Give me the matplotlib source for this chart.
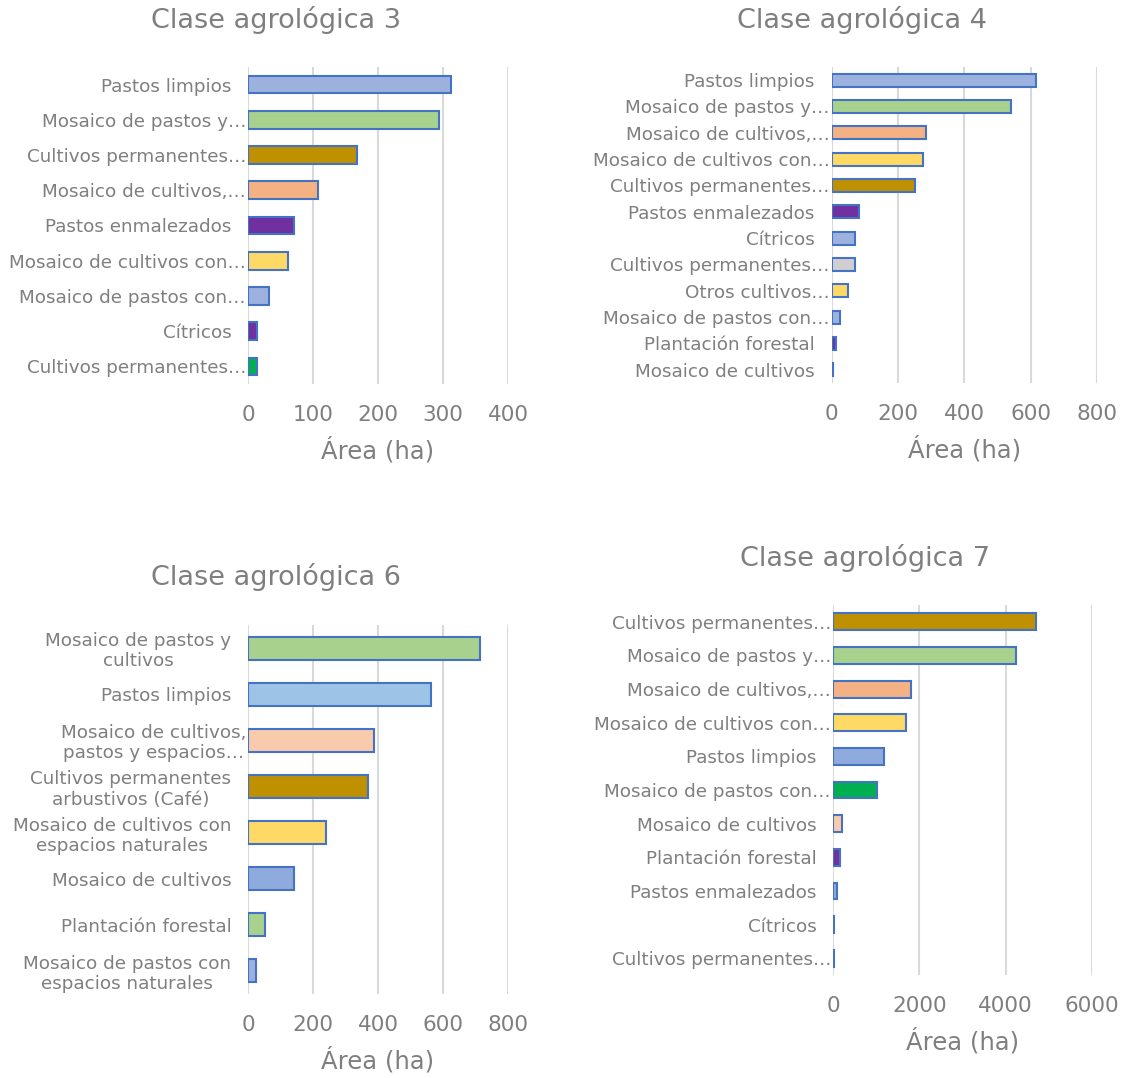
import matplotlib
matplotlib.use("Agg")
import matplotlib.pyplot as plt

plt.rcParams['font.family'] = ['DejaVu Sans']

W, H = 1125, 1078
TXT = '#7F7F7F'
EDGE = '#4472C4'
GRID = '#D9D9D9'

# ---------------- data ----------------
titles = ["Clase agrológica 3", "Clase agrológica 4", "Clase agrológica 6", "Clase agrológica 7"]
xlabel = "Área (ha)"

cats3 = ["Pastos limpios", "Mosaico de pastos y…", "Cultivos permanentes…", "Mosaico de cultivos,…",
         "Pastos enmalezados", "Mosaico de cultivos con…", "Mosaico de pastos con…", "Cítricos",
         "Cultivos permanentes…"]
vals3 = [312, 294, 167, 107, 71, 62, 32, 14, 14]
ticks3 = [0, 100, 200, 300, 400]

cats4 = ["Pastos limpios", "Mosaico de pastos y…", "Mosaico de cultivos,…", "Mosaico de cultivos con…",
         "Cultivos permanentes…", "Pastos enmalezados", "Cítricos", "Cultivos permanentes…",
         "Otros cultivos…", "Mosaico de pastos con…", "Plantación forestal", "Mosaico de cultivos"]
vals4 = [617, 542, 286, 276, 251, 83, 71, 71, 50, 27, 14, 4]
ticks4 = [0, 200, 400, 600, 800]

cats6 = ["Mosaico de pastos y\ncultivos", "Pastos limpios", "Mosaico de cultivos,\npastos y espacios…",
         "Cultivos permanentes\narbustivos (Café)", "Mosaico de cultivos con\nespacios naturales",
         "Mosaico de cultivos", "Plantación forestal", "Mosaico de pastos con\nespacios naturales"]
vals6 = [715, 563, 387, 368, 240, 143, 52, 24]
ticks6 = [0, 200, 400, 600, 800]

cats7 = ["Cultivos permanentes…", "Mosaico de pastos y…", "Mosaico de cultivos,…", "Mosaico de cultivos con…",
         "Pastos limpios", "Mosaico de pastos con…", "Mosaico de cultivos", "Plantación forestal",
         "Pastos enmalezados", "Cítricos", "Cultivos permanentes…"]
vals7 = [4707, 4247, 1817, 1696, 1187, 1009, 202, 170, 97, 30, 30]
ticks7 = [0, 2000, 4000, 6000]

# ---------------- styles ----------------
BLU = '#9DB1DF'
GRN = '#A9D18E'
GLD = '#BF9000'
ORG = '#F4B183'
PUR = '#7030A0'
YEL = '#FFD966'
DGR = '#00B050'
GRY = '#D0CECE'
LBL = '#9DC3E6'
PCH = '#F8CBAD'
MBL = '#8FAADC'

cols3 = [BLU, GRN, GLD, ORG, PUR, YEL, BLU, PUR, DGR]
cols4 = [BLU, GRN, ORG, YEL, GLD, PUR, BLU, GRY, YEL, BLU, PUR, BLU]
cols6 = [GRN, LBL, PCH, GLD, YEL, MBL, GRN, BLU]
cols7 = [GLD, GRN, ORG, YEL, MBL, DGR, PCH, PUR, MBL, BLU, BLU]

# axes boxes in pixels: left, right, top, bottom
boxes = [(248, 508, 67, 384), (831.5, 1097, 67, 383), (248, 508, 625, 994), (833, 1092, 605, 975)]
title_pos = [(276, 20), (862, 20), (276, 577), (865, 558)]

fig = plt.figure(figsize=(W / 100, H / 100), dpi=100)
fig.patch.set_facecolor('white')

datasets = [(cats3, vals3, cols3, ticks3), (cats4, vals4, cols4, ticks4),
            (cats6, vals6, cols6, ticks6), (cats7, vals7, cols7, ticks7)]

for i, ((cats, vals, cols, ticks), (l, r, t, b)) in enumerate(zip(datasets, boxes)):
    ax = fig.add_axes([l / W, 1 - b / H, (r - l) / W, (b - t) / H])
    n = len(cats)
    y = list(range(n))
    ax.barh(y, vals, height=0.5, color=cols, edgecolor=EDGE, linewidth=1.5, zorder=3)
    ax.set_ylim(n - 0.5, -0.5)
    ax.set_xlim(ticks[0], ticks[-1])
    ax.set_xticks(ticks)
    ax.set_xticklabels([str(v) for v in ticks])
    ax.set_yticks(y)
    ax.set_yticklabels(cats, multialignment='center', linespacing=1.15)
    for s in ax.spines.values():
        s.set_visible(False)
    ax.grid(axis='x', color=GRID, linewidth=1.5, zorder=0)
    ax.tick_params(axis='x', length=0, pad=15, labelsize=15.5, labelcolor=TXT)
    ax.tick_params(axis='y', length=0, labelsize=13.2, labelcolor=TXT)
    for tk, c in zip(ax.yaxis.get_major_ticks(), cats):
        tk.set_pad(1.5 if c.endswith('…') else 12)
    ax.set_xlabel(xlabel, fontsize=17.5, color=TXT, labelpad=9)
    tx, ty = title_pos[i]
    fig.text(tx / W, 1 - ty / H, titles[i], fontsize=19.5, color=TXT, ha='center', va='center')

fig.savefig('out.png', dpi=100, facecolor='white')
